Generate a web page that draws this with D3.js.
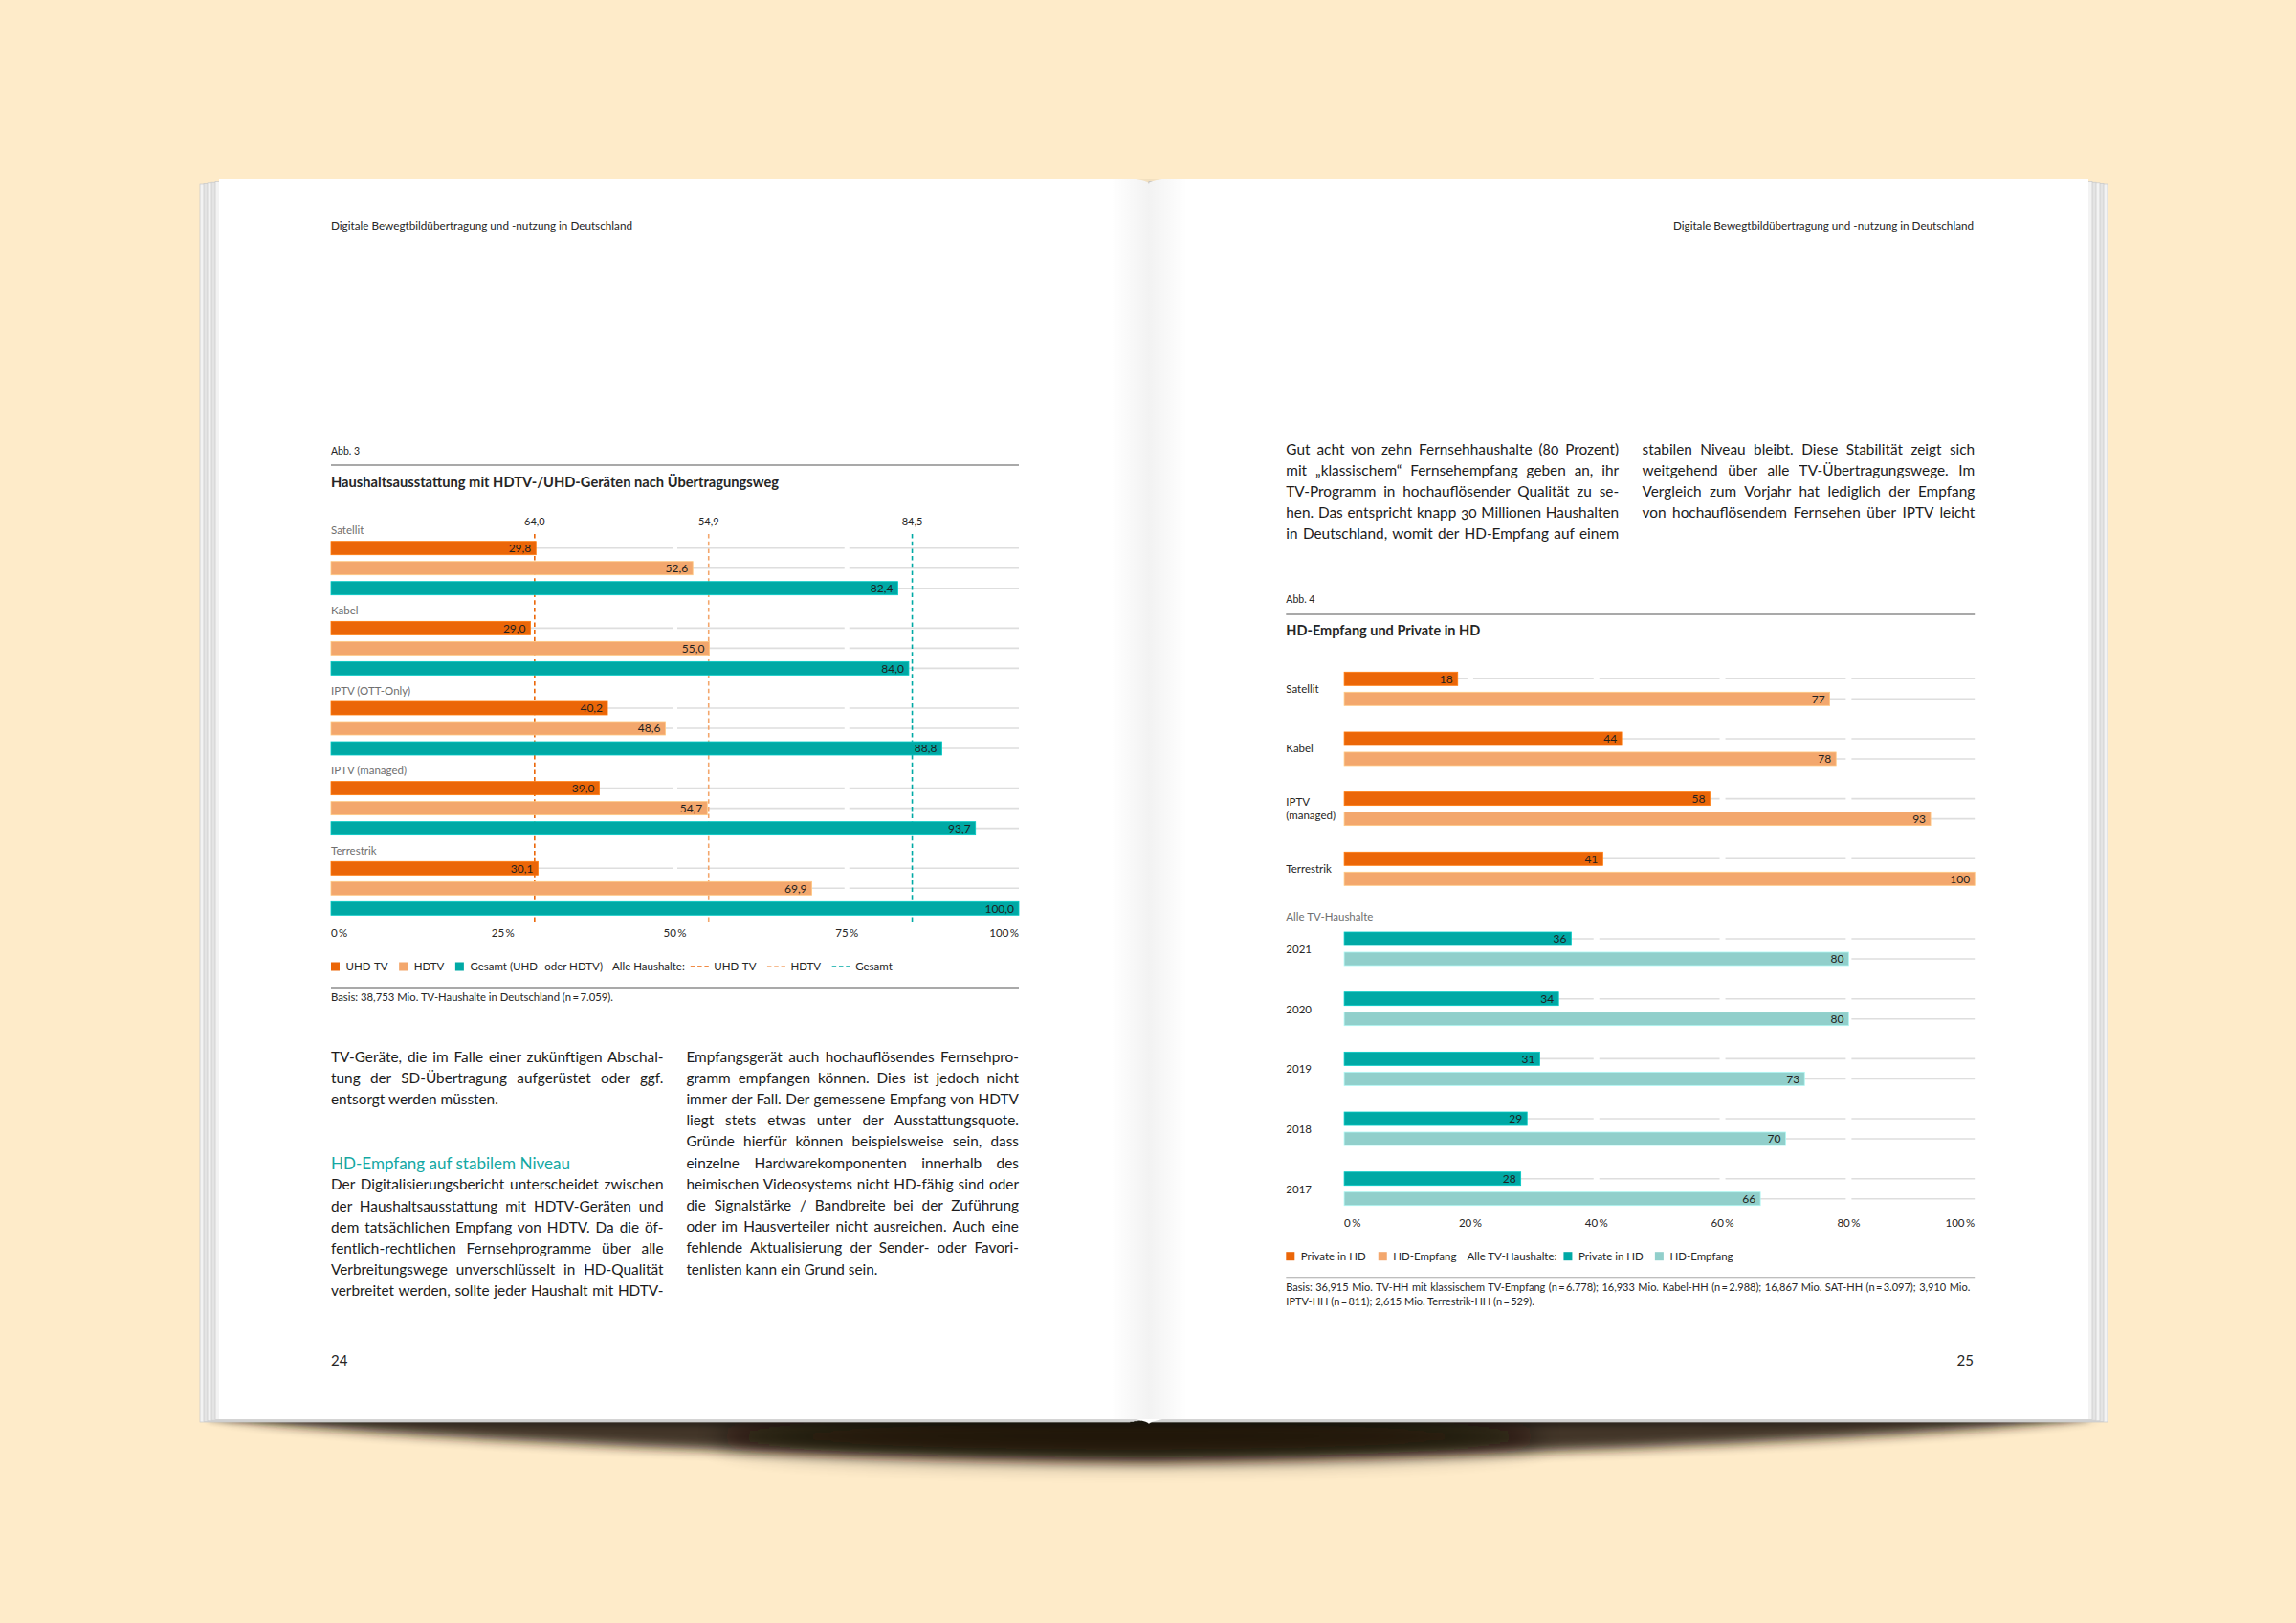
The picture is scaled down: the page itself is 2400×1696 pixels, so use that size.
<!DOCTYPE html>
<html><head><meta charset="utf-8">
<script src="https://cdn.jsdelivr.net/npm/d3@7"></script>
<style>body{margin:0;background:#FEEBC9;} svg{display:block}</style>
</head><body><script>
// ---------------- DATA ----------------
const headerText = "Digitale Bewegtbildübertragung und -nutzung in Deutschland";
const pageNumbers = ["24", "25"];

const fig3Label = "Abb. 3";
const fig3Title = "Haushaltsausstattung mit HDTV-/UHD-Geräten nach Übertragungsweg";
const fig3Categories = ["Satellit", "Kabel", "IPTV (OTT-Only)", "IPTV (managed)", "Terrestrik"];
const fig3Series = ["UHD-TV", "HDTV", "Gesamt (UHD- oder HDTV)"];
const fig3Uhd = [29.8, 29.0, 40.2, 39.0, 30.1];
const fig3Hdtv = [52.6, 55.0, 48.6, 54.7, 69.9];
const fig3Gesamt = [82.4, 84.0, 88.8, 93.7, 100.0];
const fig3RefValues = [29.6, 54.9, 84.5];
const fig3RefLabels = ["64,0", "54,9", "84,5"];
const fig3RefNames = ["UHD-TV", "HDTV", "Gesamt"];
const fig3Ticks = [0, 25, 50, 75, 100];
const fig3LegendPrefix = "Alle Haushalte:";
const fig3Basis = "Basis: 38,753 Mio. TV-Haushalte in Deutschland (n\u2009=\u20097.059).";

const fig4Label = "Abb. 4";
const fig4Title = "HD-Empfang und Private in HD";
const fig4Categories = ["Satellit", "Kabel", "IPTV (managed)", "Terrestrik"];
const fig4Series = ["Private in HD", "HD-Empfang"];
const fig4Private = [18, 44, 58, 41];
const fig4HdEmpfang = [77, 78, 93, 100];
const fig4AllLabel = "Alle TV-Haushalte";
const fig4Years = ["2021", "2020", "2019", "2018", "2017"];
const fig4PrivateAll = [36, 34, 31, 29, 28];
const fig4HdEmpfangAll = [80, 80, 73, 70, 66];
const fig4Ticks = [0, 20, 40, 60, 80, 100];
const fig4LegendPrefix = "Alle TV-Haushalte:";
const fig4Basis = [
  "Basis: 36,915 Mio. TV-HH mit klassischem TV-Empfang (n\u2009=\u20096.778); 16,933 Mio. Kabel-HH (n\u2009=\u20092.988); 16,867 Mio. SAT-HH (n\u2009=\u20093.097); 3,910 Mio.",
  "IPTV-HH (n\u2009=\u2009811); 2,615 Mio. Terrestrik-HH (n\u2009=\u2009529)."
];

const p24Col1a = [
  "TV-Geräte, die im Falle einer zukünftigen Abschal-",
  "tung der SD-Übertragung aufgerüstet oder ggf.",
  "entsorgt werden müssten."
];
const p24Heading = "HD-Empfang auf stabilem Niveau";
const p24Col1b = [
  "Der Digitalisierungsbericht unterscheidet zwischen",
  "der Haushaltsausstattung mit HDTV-Geräten und",
  "dem tatsächlichen Empfang von HDTV. Da die öf-",
  "fentlich-rechtlichen Fernsehprogramme über alle",
  "Verbreitungswege unverschlüsselt in HD-Qualität",
  "verbreitet werden, sollte jeder Haushalt mit HDTV-"
];
const p24Col2 = [
  "Empfangsgerät auch hochauflösendes Fernsehpro-",
  "gramm empfangen können. Dies ist jedoch nicht",
  "immer der Fall. Der gemessene Empfang von HDTV",
  "liegt stets etwas unter der Ausstattungsquote.",
  "Gründe hierfür können beispielsweise sein, dass",
  "einzelne Hardwarekomponenten innerhalb des",
  "heimischen Videosystems nicht HD-fähig sind oder",
  "die Signalstärke / Bandbreite bei der Zuführung",
  "oder im Hausverteiler nicht ausreichen. Auch eine",
  "fehlende Aktualisierung der Sender- oder Favori-",
  "tenlisten kann ein Grund sein."
];
const p25Col1 = [
  "Gut acht von zehn Fernsehhaushalte (80 Prozent)",
  "mit „klassischem“ Fernsehempfang geben an, ihr",
  "TV-Programm in hochauflösender Qualität zu se-",
  "hen. Das entspricht knapp 30 Millionen Haushalten",
  "in Deutschland, womit der HD-Empfang auf einem"
];
const p25Col2 = [
  "stabilen Niveau bleibt. Diese Stabilität zeigt sich",
  "weitgehend über alle TV-Übertragungswege. Im",
  "Vergleich zum Vorjahr hat lediglich der Empfang",
  "von hochauflösendem Fernsehen über IPTV leicht"
];

// ---------------- STYLE / LAYOUT ----------------
const FONT = "Lato, 'Open Sans', 'Noto Sans', sans-serif";
const COL = {
  bg: "#FEEBC9", page: "#FFFFFF",
  orange: "#EB6608", lightOrange: "#F3A76D", teal: "#00A9A5", lightTeal: "#91CFCB",
  grid: "#DEDEDE", rule: "#A9A9A9", text: "#262626", gray: "#6F6F6F", headTeal: "#14A8A3"
};
const de = d3.formatLocale({decimal: ",", thousands: ".", grouping: [3], currency: ["", "€"]});
const fmt1 = de.format(".1f");
const fmt0 = de.format("d");

const svg = d3.select("body").append("svg").attr("width", 2400).attr("height", 1696)
  .style("font-family", FONT);
const defs = svg.append("defs");

function blur(id, sd) {
  defs.append("filter").attr("id", id).attr("x", "-30%").attr("y", "-300%")
    .attr("width", "160%").attr("height", "700%")
    .append("feGaussianBlur").attr("stdDeviation", sd);
}
blur("b1", 6); blur("b2", 12); blur("b3", 2.5);

const spine = defs.append("linearGradient").attr("id", "spine").attr("x1", 0).attr("x2", 1);
spine.append("stop").attr("offset", "0%").attr("stop-color", "#000").attr("stop-opacity", 0);
spine.append("stop").attr("offset", "50%").attr("stop-color", "#000").attr("stop-opacity", 0.05);
spine.append("stop").attr("offset", "100%").attr("stop-color", "#000").attr("stop-opacity", 0);

// background
svg.append("rect").attr("width", 2400).attr("height", 1696).attr("fill", COL.bg);

// ---------------- BOOK ----------------
const book = {left: 229, right: 2183, top: 187, bottom: 1483, spine: 1201};
// shadow beneath the book
svg.append("path")
  .attr("d", `M${book.left - 10},${book.bottom - 4} L${book.right + 12},${book.bottom - 4}
    C${book.right - 150},${book.bottom + 22} ${book.spine + 300},${book.bottom + 40} ${book.spine},${book.bottom + 44}
    C${book.spine - 300},${book.bottom + 40} ${book.left + 150},${book.bottom + 22} ${book.left - 10},${book.bottom - 4} Z`)
  .attr("fill", "#23180c").attr("opacity", 0.85).attr("filter", "url(#b1)");
svg.append("ellipse").attr("cx", 1180).attr("cy", book.bottom + 18).attr("rx", 430).attr("ry", 22)
  .attr("fill", "#120c05").attr("opacity", 0.8).attr("filter", "url(#b2)");
svg.append("ellipse").attr("cx", 1200).attr("cy", book.bottom + 2).attr("rx", 985).attr("ry", 6)
  .attr("fill", "#000").attr("opacity", 0.45).attr("filter", "url(#b3)");

// page stacks
for (let k = 5; k >= 1; k--) {
  svg.append("rect").attr("x", book.left - 4 * k).attr("y", book.top + 2 + k * 0.6)
    .attr("width", book.spine - book.left).attr("height", book.bottom - book.top - 2)
    .attr("fill", k % 2 ? "#f3f3f3" : "#e4e4e4").attr("stroke", "#c9c9c9").attr("stroke-width", 0.7);
  svg.append("rect").attr("x", book.spine).attr("y", book.top + 2 + k * 0.6)
    .attr("width", book.right - book.spine + 4 * k).attr("height", book.bottom - book.top - 2)
    .attr("fill", k % 2 ? "#f3f3f3" : "#e4e4e4").attr("stroke", "#c9c9c9").attr("stroke-width", 0.7);
}
// pages
svg.append("path").attr("fill", COL.page)
  .attr("d", `M${book.left},${book.top} L${book.spine - 14},${book.top} Q${book.spine},${book.top + 2} ${book.spine},${book.top + 5}
   Q${book.spine},${book.top + 2} ${book.spine + 14},${book.top} L${book.right},${book.top}
   L${book.right},${book.bottom} L${book.spine + 14},${book.bottom} Q${book.spine},${book.bottom + 3} ${book.spine},${book.bottom + 5}
   Q${book.spine},${book.bottom + 3} ${book.spine - 14},${book.bottom} L${book.left},${book.bottom} Z`);
svg.append("rect").attr("x", book.spine - 40).attr("y", book.top).attr("width", 80)
  .attr("height", book.bottom - book.top).attr("fill", "url(#spine)");

// ---------------- TEXT HELPERS ----------------
function txt(g, x, y, s, o = {}) {
  const t = g.append("text").attr("x", x).attr("y", y).attr("dy", "0.35em").text(s)
    .attr("font-size", o.size || 12).attr("fill", o.fill || COL.text)
    .attr("text-anchor", o.anchor || "start").attr("font-weight", o.weight || 400);
  if (o.width) t.attr("textLength", o.width).attr("lengthAdjust", "spacingAndGlyphs");
  return t;
}
function justify(t, width) {
  const node = t.node();
  t.attr("word-spacing", null).attr("textLength", null);
  const natural = node.getComputedTextLength();
  const spaces = (t.text().match(/ /g) || []).length;
  if (natural > width || !spaces) t.attr("textLength", width).attr("lengthAdjust", "spacingAndGlyphs");
  else t.attr("word-spacing", (width - natural) / spaces);
}

const G = svg.append("g");

// headers + page numbers
txt(G, 346, 236, headerText, {size: 11, width: 315});
txt(G, 2063, 236, headerText, {size: 11, width: 314, anchor: "end"});
txt(G, 346, 1422, pageNumbers[0], {size: 15});
txt(G, 2063, 1422, pageNumbers[1], {size: 15, anchor: "end"});

// ---------------- BODY TEXT (two passes: size to fit, then justify) ----------------
const LH = 22.2;
const bodyCols = [
  {lines: p24Col1a, x: 346, y0: 1104.3, w: 347.5, ragged: true},
  {lines: p24Col1b, x: 346, y0: 1238, w: 347.5, ragged: false},
  {lines: p24Col2, x: 717.4, y0: 1104.3, w: 347.6, ragged: true},
  {lines: p25Col1, x: 1344.3, y0: 469.3, w: 347.8, ragged: false},
  {lines: p25Col2, x: 1716.5, y0: 469.3, w: 347.7, ragged: false}
];
const BASE = 14;
const bodyItems = [];
bodyCols.forEach(c => c.lines.forEach((l, i) => {
  const t = txt(G, c.x, c.y0 + i * LH, l, {size: BASE, fill: "#1c1c1c"})
    .style("font-variant-numeric", "oldstyle-nums");
  bodyItems.push({t, w: c.w, just: !(c.ragged && i === c.lines.length - 1)});
}));
const ratios = bodyItems.filter(b => b.just).map(b => b.w / b.t.node().getComputedTextLength()).sort(d3.ascending);
const bodySize = BASE * d3.quantile(ratios, 0.15) * 0.985;
bodyItems.forEach(b => { b.t.attr("font-size", bodySize); if (b.just) justify(b.t, b.w); });
txt(G, 346, 1215.7, p24Heading, {size: bodySize * 1.08, fill: COL.headTeal, width: 250});

// ---------------- GENERIC PIECES ----------------
function gridSegments(ticks, x, gap) {
  return d3.range(ticks.length - 1).map(i => [
    x(ticks[i]) + (i === 0 ? 0 : gap / 2),
    x(ticks[i + 1]) - (i === ticks.length - 2 ? 0 : gap / 2)
  ]);
}
function drawRow(g, y, h, value, x, color, segs, label) {
  const cy = y + h / 2;
  segs.forEach(s => g.append("line").attr("x1", s[0]).attr("x2", s[1]).attr("y1", cy).attr("y2", cy)
    .attr("stroke", COL.grid).attr("stroke-width", 1.6));
  return {cy, y, h, value, color, label};
}
function drawBar(g, r, x) {
  g.append("rect").attr("x", x(0)).attr("y", r.y).attr("width", x(r.value) - x(0)).attr("height", r.h)
    .attr("fill", r.color).attr("stroke", d3.color(r.color).brighter(0.5)).attr("stroke-width", 0.8);
  txt(g, x(r.value) - 5, r.cy, r.label, {size: 12, anchor: "end", fill: "#1f1f1f"});
}
function axisLabels(g, ticks, x, y) {
  ticks.forEach((t, i) => {
    const anchor = i === 0 ? "start" : (i === ticks.length - 1 ? "end" : "middle");
    txt(g, x(t), y, t + "\u2009%", {size: 11.5, anchor});
  });
}
function legend(g, items, x0, y) {
  let x = x0;
  items.forEach(it => {
    if (it.type === "sq") {
      g.append("rect").attr("x", x).attr("y", y - 4.5).attr("width", 9).attr("height", 9).attr("fill", it.color);
      x += 9 + 6.5;
    } else if (it.type === "dash") {
      g.append("line").attr("x1", x).attr("x2", x + 19).attr("y1", y).attr("y2", y)
        .attr("stroke", it.color).attr("stroke-width", 1.6).attr("stroke-dasharray", "4.5,2.8");
      x += 19 + 5.5;
    } else {
      const t = txt(g, x, y, it.text, {size: 11.5});
      x += t.node().getComputedTextLength() + (it.gap || 11.5);
    }
  });
}

// ---------------- FIG 3 ----------------
const F3 = svg.append("g");
const x3 = d3.scaleLinear().domain([0, 100]).range([346, 1065]);
const g3 = d3.scalePoint().domain(fig3Categories).range([565.7, 900.3]);
const s3 = d3.scaleBand().domain(fig3Series).range([0, 56]).paddingInner(1 / 3);
const c3 = d3.scaleOrdinal().domain(fig3Series).range([COL.orange, COL.lightOrange, COL.teal]);
const refColors = [COL.orange, COL.lightOrange, COL.teal];

txt(F3, 346, 471, fig3Label, {size: 10.5});
F3.append("line").attr("x1", 346).attr("x2", 1065).attr("y1", 486).attr("y2", 486)
  .attr("stroke", COL.rule).attr("stroke-width", 2);
txt(F3, 346, 503.3, fig3Title, {size: 15, weight: 700, width: 468});

const segs3 = gridSegments(fig3Ticks, x3, 5);
const rows3 = [];
fig3Categories.forEach((c, i) => {
  txt(F3, 346, g3(c) - 11.5, c, {size: 11.5, fill: COL.gray});
  [fig3Uhd, fig3Hdtv, fig3Gesamt].forEach((arr, j) => {
    const s = fig3Series[j];
    rows3.push(drawRow(F3, g3(c) + s3(s), s3.bandwidth(), arr[i], x3, c3(s), segs3, fmt1(arr[i])));
  });
});
// reference lines
fig3RefValues.forEach((v, i) => {
  F3.append("line").attr("x1", x3(v)).attr("x2", x3(v)).attr("y1", 558).attr("y2", 963)
    .attr("stroke", refColors[i]).attr("stroke-width", 1.6).attr("stroke-dasharray", "4.5,3.2");
  txt(F3, x3(v), 544.7, fig3RefLabels[i], {size: 11, anchor: "middle"});
});
rows3.forEach(r => drawBar(F3, r, x3));
axisLabels(F3, fig3Ticks, x3, 975);
legend(F3, [
  {type: "sq", color: COL.orange}, {type: "t", text: fig3Series[0]},
  {type: "sq", color: COL.lightOrange}, {type: "t", text: fig3Series[1]},
  {type: "sq", color: COL.teal}, {type: "t", text: fig3Series[2], gap: 10},
  {type: "t", text: fig3LegendPrefix, gap: 6},
  {type: "dash", color: refColors[0]}, {type: "t", text: fig3RefNames[0]},
  {type: "dash", color: refColors[1]}, {type: "t", text: fig3RefNames[1]},
  {type: "dash", color: refColors[2]}, {type: "t", text: fig3RefNames[2]}
], 346, 1010);
F3.append("line").attr("x1", 346).attr("x2", 1065).attr("y1", 1032).attr("y2", 1032)
  .attr("stroke", COL.rule).attr("stroke-width", 2);
txt(F3, 346, 1042.5, fig3Basis, {size: 10.5, width: 295});

// ---------------- FIG 4 ----------------
const F4 = svg.append("g");
const x4 = d3.scaleLinear().domain([0, 100]).range([1405.1, 2064.2]);
const g4 = d3.scalePoint().domain(fig4Categories).range([702.3, 890.3]);
const y4 = d3.scalePoint().domain(fig4Years).range([974, 1224.7]);
const s4 = d3.scaleBand().domain(fig4Series).range([0, 35]).paddingInner(1 / 3);

txt(F4, 1344.3, 626.5, fig4Label, {size: 10.5});
F4.append("line").attr("x1", 1344.3).attr("x2", 2064.2).attr("y1", 642).attr("y2", 642)
  .attr("stroke", COL.rule).attr("stroke-width", 2);
txt(F4, 1344.3, 659, fig4Title, {size: 15, weight: 700, width: 203});

const segs4 = gridSegments(fig4Ticks, x4, 6);
const rows4 = [];
function catLabel(g, s, y) {
  const t = txt(g, 1344.3, y, s, {size: 11.5});
  if (t.node().getComputedTextLength() > 56 && s.includes(" ")) {
    t.remove();
    const parts = [s.slice(0, s.indexOf(" ")), s.slice(s.indexOf(" ") + 1)];
    txt(g, 1344.3, y - 7, parts[0], {size: 11.5});
    txt(g, 1344.3, y + 7, parts[1], {size: 11.5});
  }
}
fig4Categories.forEach((c, i) => {
  const top = g4(c);
  catLabel(F4, c, top + 17.5);
  rows4.push(drawRow(F4, top + s4(fig4Series[0]), s4.bandwidth(), fig4Private[i], x4, COL.orange, segs4, fmt0(fig4Private[i])));
  rows4.push(drawRow(F4, top + s4(fig4Series[1]), s4.bandwidth(), fig4HdEmpfang[i], x4, COL.lightOrange, segs4, fmt0(fig4HdEmpfang[i])));
});
txt(F4, 1344.3, 958, fig4AllLabel, {size: 11.5, fill: COL.gray});
fig4Years.forEach((yr, i) => {
  const top = y4(yr);
  txt(F4, 1344.3, top + 18, yr, {size: 11.5});
  rows4.push(drawRow(F4, top + s4(fig4Series[0]), s4.bandwidth(), fig4PrivateAll[i], x4, COL.teal, segs4, fmt0(fig4PrivateAll[i])));
  rows4.push(drawRow(F4, top + s4(fig4Series[1]), s4.bandwidth(), fig4HdEmpfangAll[i], x4, COL.lightTeal, segs4, fmt0(fig4HdEmpfangAll[i])));
});
rows4.forEach(r => drawBar(F4, r, x4));
axisLabels(F4, fig4Ticks, x4, 1278.3);
legend(F4, [
  {type: "sq", color: COL.orange}, {type: "t", text: fig4Series[0], gap: 13},
  {type: "sq", color: COL.lightOrange}, {type: "t", text: fig4Series[1], gap: 11},
  {type: "t", text: fig4LegendPrefix, gap: 7},
  {type: "sq", color: COL.teal}, {type: "t", text: fig4Series[0], gap: 12},
  {type: "sq", color: COL.lightTeal}, {type: "t", text: fig4Series[1]}
], 1344.3, 1312.7);
F4.append("line").attr("x1", 1344.3).attr("x2", 2064.2).attr("y1", 1335.3).attr("y2", 1335.3)
  .attr("stroke", COL.rule).attr("stroke-width", 2);
const b1 = txt(F4, 1344.3, 1345.5, fig4Basis[0], {size: 11});
justify(b1, 715);
txt(F4, 1344.3, 1360.5, fig4Basis[1], {size: 11});
</script></body></html>
